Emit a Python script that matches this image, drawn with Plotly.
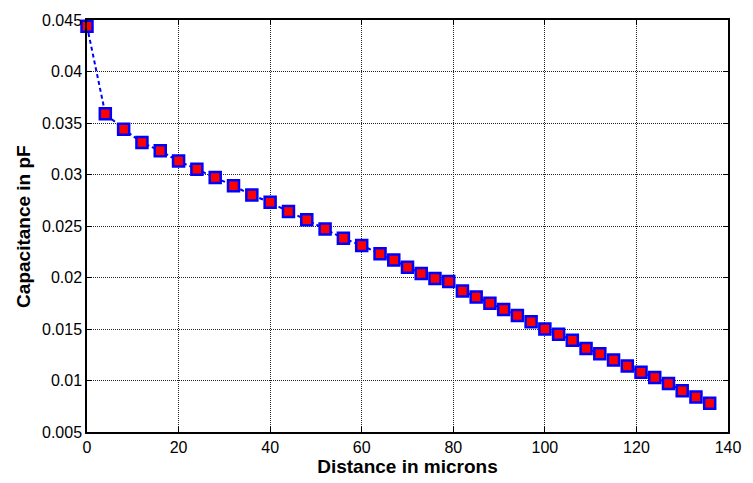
import plotly.graph_objects as go

distance_um = [0, 4, 8, 12, 16, 20, 24, 28, 32, 36, 40, 44, 48, 52, 56, 60, 64,
               67, 70, 73, 76, 79, 82, 85, 88, 91, 94, 97, 100, 103, 106, 109,
               112, 115, 118, 121, 124, 127, 130, 133, 136]
capacitance_pF = [0.0444, 0.0359, 0.0344, 0.0331, 0.0323, 0.0313, 0.0305, 0.0297,
                  0.0289, 0.0280, 0.0273, 0.0264, 0.0256, 0.0247, 0.0238, 0.0231,
                  0.0223, 0.0217, 0.0210, 0.0204, 0.0199, 0.0196, 0.0187, 0.0181,
                  0.0175, 0.0169, 0.0163, 0.0157, 0.0150, 0.0145, 0.0139, 0.0131,
                  0.0126, 0.0120, 0.0114, 0.0108, 0.0103, 0.0097, 0.0090, 0.0084,
                  0.0078]

x_ticks = [0, 20, 40, 60, 80, 100, 120, 140]
y_ticks = [0.005, 0.01, 0.015, 0.02, 0.025, 0.03, 0.035, 0.04, 0.045]
y_tick_labels = ["0.005", "0.01", "0.015", "0.02", "0.025", "0.03", "0.035", "0.04", "0.045"]

FONT = "Liberation Sans, Arial, sans-serif"

fig = go.Figure()
fig.add_trace(go.Scatter(
    x=distance_um, y=capacitance_pF, mode="lines+markers",
    line=dict(color="#0000ff", width=2, dash="4px,3px"),
    marker=dict(symbol="square", size=11, color="#ff0000",
                line=dict(color="#0000ff", width=2.5)),
    showlegend=False, cliponaxis=False,
))

axis_common = dict(
    showline=True, linecolor="black", linewidth=1.5, mirror="ticks",
    ticks="inside", ticklen=5, tickcolor="black", tickwidth=1,
    showgrid=True, gridcolor="#222222", gridwidth=1, griddash="1px,1px",
    zeroline=False,
    tickfont=dict(family=FONT, size=16, color="black"),
)

fig.update_layout(
    width=753, height=483,
    margin=dict(l=87, r=16, t=15, b=51),
    paper_bgcolor="white", plot_bgcolor="white",
    xaxis=dict(range=[0, 140], tickvals=x_ticks,
               title=dict(text="<b>Distance in microns</b>", standoff=2,
                          font=dict(family=FONT, size=19, color="black")),
               **axis_common),
    yaxis=dict(range=[0.005, 0.045], tickvals=y_ticks, ticktext=y_tick_labels,
               **axis_common),
    annotations=[dict(
        text="<b>Capacitance in pF</b>", textangle=-90,
        xref="paper", yref="paper", x=(22 - 87) / 650, y=0.5,
        xanchor="center", yanchor="middle", showarrow=False,
        font=dict(family=FONT, size=19, color="black"),
    )],
)

fig.write_html("out.html")
